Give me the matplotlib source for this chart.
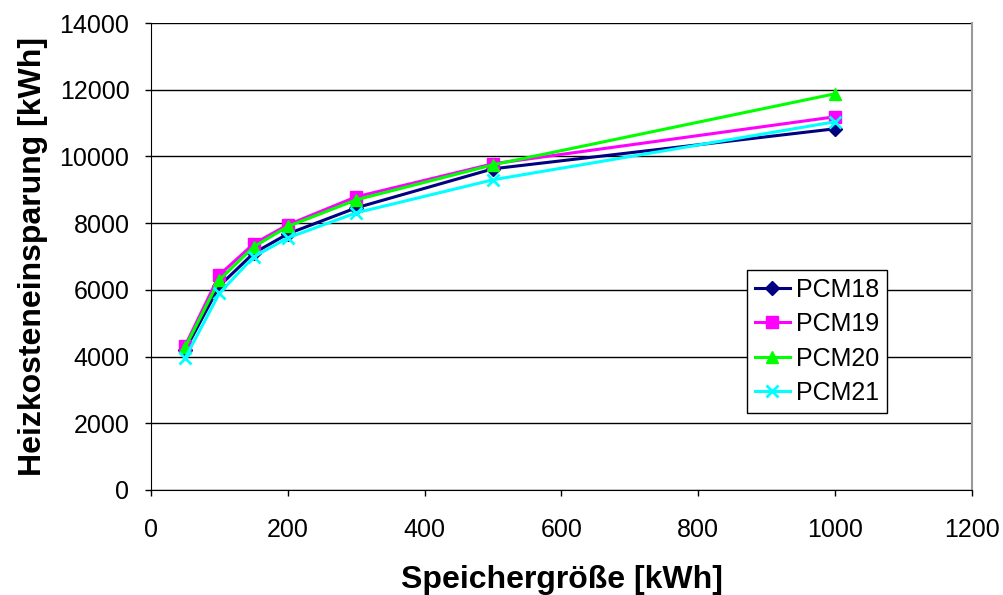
import matplotlib
matplotlib.use('Agg')
import matplotlib.pyplot as plt

plt.rcParams['font.family'] = ['Liberation Sans', 'DejaVu Sans']

speicher = [50, 100, 150, 200, 300, 500, 1000]
pcm18 = [4200, 6120, 7100, 7680, 8460, 9630, 10830]
pcm19 = [4330, 6450, 7380, 7950, 8790, 9780, 11190]
pcm20 = [4280, 6300, 7290, 7900, 8700, 9750, 11880]
pcm21 = [3960, 5900, 6990, 7560, 8310, 9300, 11040]

series = [
    ('PCM18', pcm18, '#000080', 'D', 7),
    ('PCM19', pcm19, '#FF00FF', 's', 8),
    ('PCM20', pcm20, '#00FF00', '^', 8),
    ('PCM21', pcm21, '#00FFFF', 'x', 9),
]

fig = plt.figure(figsize=(10.04, 5.95), dpi=100)
ax = fig.add_axes([0.1504, 0.1765, 0.8177, 0.7848])

for name, vals, col, mk, ms in series:
    ax.plot(speicher, vals, color=col, marker=mk, markersize=ms, linewidth=2.2,
            markeredgewidth=2 if mk == 'x' else 1, label=name)

ax.set_xlim(0, 1200)
ax.set_ylim(0, 14000)
ax.set_xticks(range(0, 1201, 200))
ax.set_yticks(range(0, 14001, 2000))
ax.yaxis.grid(True, color='black', linewidth=1)
ax.set_axisbelow(True)

for s in ['left', 'bottom']:
    ax.spines[s].set_color('black')
ax.spines['top'].set_visible(False)
ax.spines['right'].set_color('#999999')
ax.spines['right'].set_linewidth(1.5)

ax.tick_params(axis='both', direction='out', length=4.5, width=1, labelsize=18)
ax.tick_params(axis='y', pad=11)
ax.tick_params(axis='x', pad=16)

ax.set_xlabel('Speichergröße [kWh]', fontsize=23, fontweight='bold', labelpad=16)
ax.set_ylabel('Heizkosteneinsparung [kWh]', fontsize=23, fontweight='bold', labelpad=8)

leg = ax.legend(loc='upper left', bbox_to_anchor=(0.726, 0.471), borderaxespad=0,
                fontsize=18, frameon=True, fancybox=False, edgecolor='black',
                framealpha=1, borderpad=0.3, handlelength=1.4, labelspacing=0.42,
                handletextpad=0.25)
leg.get_frame().set_linewidth(1)

fig.savefig('out.png', dpi=100)
